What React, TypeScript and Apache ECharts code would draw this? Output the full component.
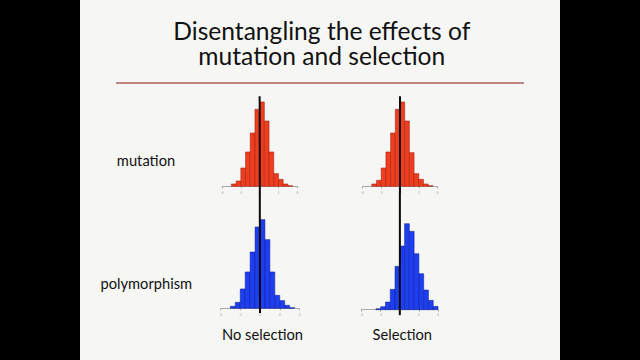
import React, { useEffect, useRef } from "react";
import * as echarts from "echarts";

// Histogram counts (bin width 0.5)
const binWidth = 0.5;
const mutationNoSelStart = -3;
const mutationNoSel = [7, 16, 55, 103, 160, 231, 253, 196, 103, 38, 21, 7, 2];
const mutationSelStart = -3;
const mutationSel = [7, 18, 55, 103, 160, 231, 253, 196, 101, 38, 21, 7, 2];
const polyNoSelStart = -3;
const polyNoSel = [6, 18, 58, 109, 169, 244, 266, 206, 109, 39, 23, 9, 2];
const polySelStart = -2.5;
const polySel = [3, 9, 23, 61, 130, 191, 258, 235, 168, 108, 59, 28, 10];

const titleLines = ["Disentangling the effects of", "mutation and selection"];
const rowLabels = ["mutation", "polymorphism"];
const colLabels = ["No selection", "Selection"];

const RED = "#ef3d1f";
const RED_EDGE = "#9a1d0c";
const BLUE = "#1e3ef2";
const BLUE_EDGE = "#0b1a8c";
const FONT = "Lato, 'Open Sans', sans-serif";

function toBins(start: number, counts: number[]) {
  return counts.map((c, i) => [start + i * binWidth, start + (i + 1) * binWidth, c]);
}

const grids = [
  { left: 222, top: 86.3, width: 75.3, height: 100, offset: 3 },
  { left: 362.4, top: 86.3, width: 75.2, height: 100, offset: 3 },
  { left: 220.5, top: 208.3, width: 79, height: 100, offset: 2.5 },
  { left: 361.6, top: 209.7, width: 76.4, height: 100, offset: 2 },
];

function label(text: string, x: number, baseline: number, size: number) {
  return {
    type: "text",
    x,
    y: baseline - 0.36 * size,
    style: { text, font: `${size}px ${FONT}`, fill: "#111", textAlign: "center", textVerticalAlign: "middle" },
  };
}

export default function App() {
  const ref = useRef<HTMLDivElement>(null);
  useEffect(() => {
    document.body.style.margin = "0";
    const chart = echarts.init(ref.current!, null, { renderer: "svg" });
    const seriesData = [
      { start: mutationNoSelStart, counts: mutationNoSel, fill: RED, edge: RED_EDGE },
      { start: mutationSelStart, counts: mutationSel, fill: RED, edge: RED_EDGE },
      { start: polyNoSelStart, counts: polyNoSel, fill: BLUE, edge: BLUE_EDGE },
      { start: polySelStart, counts: polySel, fill: BLUE, edge: BLUE_EDGE },
    ];
    chart.setOption({
      animation: false,
      backgroundColor: "#000",
      grid: grids.map((g) => ({
        left: g.left,
        top: g.top,
        width: g.width,
        height: g.height,
        outerBoundsMode: "none",
        containLabel: false,
      })),
      xAxis: grids.map((g, i) => ({
        type: "value",
        gridIndex: i,
        min: -4,
        max: 4,
        interval: 2,
        offset: g.offset,
        splitLine: { show: false },
        axisLine: { show: true, lineStyle: { color: "#a8a8a8", width: 1 } },
        axisTick: { show: true, length: 2, lineStyle: { color: "#a8a8a8" } },
        axisLabel: { show: true, fontSize: 3, color: "#9a9a9a", margin: 2, fontFamily: FONT },
      })),
      yAxis: grids.map((_, i) => ({
        type: "value",
        gridIndex: i,
        min: 0,
        max: 300,
        show: false,
        splitLine: { show: false },
      })),
      series: seriesData.map((s, i) => ({
        type: "custom",
        xAxisIndex: i,
        yAxisIndex: i,
        encode: { x: [0, 1], y: 2 },
        data: toBins(s.start, s.counts),
        renderItem: (params: any, api: any) => {
          const x0 = api.value(0);
          const x1 = api.value(1);
          const y = api.value(2);
          const p0 = api.coord([x0, y]);
          const p1 = api.coord([x1, 0]);
          return {
            type: "rect",
            shape: { x: p0[0], y: p0[1], width: p1[0] - p0[0], height: p1[1] - p0[1] },
            style: { fill: s.fill, stroke: s.edge, lineWidth: 0.5 },
          };
        },
      })),
    });

    const topL = chart.convertToPixel({ gridIndex: 0 } as any, [0, 270]) as number[];
    const botL = chart.convertToPixel({ gridIndex: 2 } as any, [0, -14]) as number[];
    const topR = chart.convertToPixel({ gridIndex: 1 } as any, [0, 270]) as number[];
    const botR = chart.convertToPixel({ gridIndex: 3 } as any, [0, -16]) as number[];

    chart.setOption({
      graphic: [
        { type: "rect", z: -10, silent: true, shape: { x: 80, y: 0, width: 480, height: 360 }, style: { fill: "#f6f6f4" } },
        { type: "line", z: 1, shape: { x1: 116, y1: 83, x2: 524, y2: 83 }, style: { stroke: "#c08686", lineWidth: 2 } },
        {
          type: "text",
          x: 321.8,
          y: 51.5 - 0.36 * 24.6,
          style: {
            text: titleLines.join("\n"),
            font: `24.6px ${FONT}`,
            lineHeight: 25,
            fill: "#111",
            align: "center",
            verticalAlign: "middle",
          },
        },
        label(rowLabels[0], 146, 165.7, 14.7),
        label(rowLabels[1], 146.3, 288.3, 14.7),
        label(colLabels[0], 262.5, 339.7, 14.7),
        label(colLabels[1], 402.3, 339.7, 14.7),
        { type: "line", z: 100, shape: { x1: topL[0], y1: topL[1], x2: botL[0], y2: botL[1] }, style: { stroke: "#0a0a0a", lineWidth: 2 } },
        { type: "line", z: 100, shape: { x1: topR[0], y1: topR[1], x2: botR[0], y2: botR[1] }, style: { stroke: "#0a0a0a", lineWidth: 2 } },
      ],
    });
    return () => chart.dispose();
  }, []);
  return <div ref={ref} style={{ width: 640, height: 360 }} />;
}
